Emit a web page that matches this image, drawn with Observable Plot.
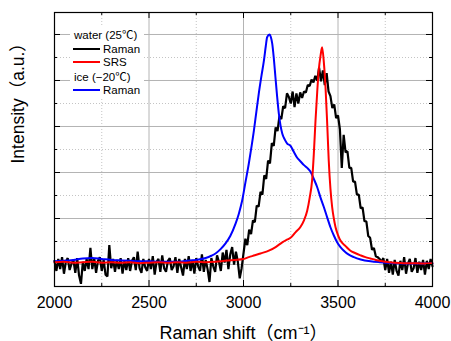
<!DOCTYPE html>
<html><head><meta charset="utf-8">
<script src="https://cdn.jsdelivr.net/npm/d3@7"></script>
<script src="https://cdn.jsdelivr.net/npm/@observablehq/plot@0.6"></script>
<style>body{margin:0;background:#fff;} #chart{width:451px;height:341px;}</style>
</head><body><div id="chart"></div>
<script>
// ---- data ----
const ramanStart = 2000, ramanStep = 10;
const waterRaman = [
 0.08,-0.14,0.12,-0.10,0.16,-0.20,0.06,0.14,-0.12,0.02,
 0.10,-0.18,0.14,-0.24,-0.42,0.06,-0.14,0.12,-0.10,0.36,
 -0.10,0.14,-0.18,0.08,0.16,-0.14,0.10,-0.22,-0.26,0.42,
 -0.08,0.12,-0.16,0.10,-0.10,0.14,-0.20,0.08,-0.12,0.14,
 -0.14,0.08,0.16,-0.12,0.28,-0.08,-0.18,0.12,-0.06,-0.14,
 0.12,-0.10,0.18,-0.22,0.06,0.12,-0.16,0.20,-0.08,-0.16,
 0.08,0.14,-0.12,-0.04,0.16,-0.18,0.12,-0.06,-0.24,0.12,
 -0.10,0.18,-0.14,0.10,-0.20,0.14,-0.04,-0.14,0.22,-0.16,
 0.10,-0.10,-0.38,0.14,-0.04,-0.16,0.20,0.06,-0.14,0.26,
 0.04,0.32,-0.10,0.22,0.38,0.00,0.28,0.06,-0.30,-0.08,
 0.24,0.56,0.42,0.76,0.66,0.96,0.92,1.28,1.26,1.58,
 1.52,1.94,1.86,2.26,2.20,2.64,2.58,2.98,2.90,3.22,
 3.16,3.44,3.40,3.72,3.64,3.50,3.76,3.42,3.72,3.50,
 3.74,3.62,3.76,3.74,3.90,3.88,4.02,3.96,4.10,4.00,
 4.28,3.98,4.22,3.90,4.16,3.76,3.66,3.40,3.48,3.18,
 3.24,2.94,2.10,2.82,2.44,2.46,2.10,2.10,1.80,1.80,
 1.52,1.52,1.22,1.24,0.94,0.94,0.62,0.58,0.32,0.36,
 0.18,0.16,0.12,0.06,0.14,-0.12,0.12,-0.18,0.06,-0.22,
 0.10,-0.14,-0.24,0.08,-0.12,0.16,-0.20,0.02,0.12,-0.16,
 -0.08,0.14,-0.18,0.06,-0.12,0.10,-0.22,0.08,-0.10,0.12,
 -0.04
];
const waterSRS = [
 [2000,0.05],[2050,0.06],[2100,0.04],[2150,0.05],[2200,0.06],[2250,0.04],[2300,0.05],[2350,0.04],
 [2400,0.05],[2450,0.03],[2500,0.04],[2550,0.05],[2600,0.04],[2650,0.05],[2700,0.04],[2750,0.06],
 [2800,0.05],[2852,0.06],[2900,0.08],[2950,0.10],[3000,0.12],[3028,0.16],[3060,0.20],[3090,0.24],
 [3134,0.30],[3170,0.38],[3205,0.48],[3230,0.54],[3249,0.58],[3275,0.70],[3302,0.82],[3320,0.96],
 [3337,1.17],[3350,1.45],[3363,1.83],[3372,2.40],[3381,3.13],[3390,3.75],[3398,4.22],[3408,4.55],
 [3416,4.72],[3425,4.40],[3434,3.85],[3443,3.05],[3451,2.26],[3460,1.65],[3469,1.25],[3478,1.00],
 [3487,0.81],[3500,0.64],[3513,0.52],[3540,0.40],[3566,0.30],[3590,0.25],[3619,0.20],[3645,0.16],
 [3672,0.13],[3700,0.10],[3750,0.06],[3800,0.04],[3850,0.03],[3900,0.03],[3950,0.02],[4000,0.03]
];
const iceRaman = [
 [2000,0.07],[2050,0.08],[2100,0.10],[2150,0.13],[2200,0.14],[2250,0.12],[2300,0.10],[2350,0.09],
 [2400,0.08],[2450,0.07],[2500,0.07],[2550,0.06],[2600,0.06],[2650,0.06],[2700,0.08],[2750,0.10],
 [2800,0.14],[2830,0.19],[2852,0.24],[2880,0.34],[2905,0.46],[2930,0.62],[2958,0.89],[2975,1.10],
 [2993,1.39],[3010,1.78],[3028,2.19],[3042,2.55],[3055,2.91],[3068,3.32],[3081,3.72],[3095,4.10],
 [3108,4.43],[3118,4.75],[3125,4.94],[3138,5.00],[3145,4.94],[3152,4.80],[3160,4.50],[3169,4.07],
 [3178,3.65],[3187,3.28],[3196,3.02],[3205,2.85],[3218,2.72],[3231,2.63],[3249,2.58],[3266,2.45],
 [3284,2.32],[3302,2.24],[3320,2.16],[3337,2.10],[3354,2.02],[3372,1.86],[3390,1.68],[3407,1.46],
 [3425,1.25],[3443,1.02],[3460,0.81],[3478,0.63],[3496,0.48],[3513,0.38],[3531,0.30],[3555,0.22],
 [3584,0.16],[3620,0.11],[3672,0.07],[3720,0.05],[3800,0.03],[3900,0.02],[4000,0.02]
];
const xMajor = [2000, 2500, 3000, 3500, 4000];
const xMinor = [2250, 2750, 3250, 3750];
const yMajor = [0, 1, 2, 3, 4, 5];
const yMinor = [0.5, 1.5, 2.5, 3.5, 4.5];
const xDomain = [2000, 4000];
const yDomain = [-0.478, 5.478];
const xLabel = "Raman shift\uFF08cm\u207B\u00B9\uFF09";
const yLabel = "Intensity\uFF08a.u.\uFF09";
const legendRows = [
 {label: "water (25\u2103)", color: null},
 {label: "Raman", color: "#000000"},
 {label: "SRS", color: "#ff0000"},
 {label: "ice (\u221220\u2103)", color: null},
 {label: "Raman", color: "#0000ff"}
];

// ---- layout ----
const W = 451, H = 341, mL = 54, mR = 19, mT = 12, mB = 55;
const fw = W - mL - mR, fh = H - mT - mB;
const FONT = "'Liberation Sans', 'Noto Sans CJK JP', sans-serif";

const black = waterRaman.map((v, i) => ({x: ramanStart + i * ramanStep, y: v}));
const red = waterSRS.map(([x, y]) => ({x, y}));
const blue = iceRaman.map(([x, y]) => ({x, y}));

const plot = Plot.plot({
  width: W, height: H,
  marginLeft: mL, marginRight: mR, marginTop: mT, marginBottom: mB,
  style: {fontFamily: FONT, background: "#fff", color: "#000"},
  x: {domain: xDomain},
  y: {domain: yDomain},
  marks: [
    Plot.ruleX(xMinor, {x: d => d, stroke: "#c4c4c4", strokeDasharray: "1,2"}),
    Plot.ruleY(yMinor, {y: d => d, stroke: "#c4c4c4", strokeDasharray: "1,2"}),
    Plot.ruleX(xMajor.slice(1, -1), {x: d => d, stroke: "#b4b4b4"}),
    Plot.ruleY(yMajor, {y: d => d, stroke: "#b4b4b4"}),
    Plot.line(black, {x: "x", y: "y", stroke: "#000", strokeWidth: 2.2, strokeLinejoin: "miter"}),
    Plot.line(blue, {x: "x", y: "y", stroke: "#0000ff", strokeWidth: 2, curve: "monotone-x"}),
    Plot.line(red, {x: "x", y: "y", stroke: "#ff0000", strokeWidth: 2, curve: "monotone-x"}),
    // inward ticks
    Plot.tickX(xMajor, {x: d => d, insetTop: fh - 6, stroke: "#000"}),
    Plot.tickX(xMinor, {x: d => d, insetTop: fh - 3, stroke: "#000"}),
    Plot.tickX(xMajor, {x: d => d, insetBottom: fh - 6, stroke: "#000"}),
    Plot.tickX(xMinor, {x: d => d, insetBottom: fh - 3, stroke: "#000"}),
    Plot.tickY(yMajor, {y: d => d, insetRight: fw - 6, stroke: "#000"}),
    Plot.tickY(yMinor, {y: d => d, insetRight: fw - 3, stroke: "#000"}),
    Plot.tickY(yMajor, {y: d => d, insetLeft: fw - 6, stroke: "#000"}),
    Plot.tickY(yMinor, {y: d => d, insetLeft: fw - 3, stroke: "#000"}),
    Plot.frame({stroke: "#000", strokeWidth: 1.2}),
    Plot.axisX(xMajor, {tickSize: 0, tickPadding: 10, tickFormat: d3.format("d"), fontSize: 16, label: null}),
    Plot.axisY({ticks: [], label: null}),
    Plot.text([xLabel], {text: d => d, frameAnchor: "bottom", dy: 52, lineAnchor: "bottom", fontSize: 18}),
    Plot.text([yLabel], {text: d => d, frameAnchor: "left", rotate: -90, dx: -36, dy: 14, fontSize: 17.5})
  ]
});
document.getElementById("chart").appendChild(plot);

// legend (inside the frame, top-left)
const g = d3.select(plot).append("g")
  .attr("font-family", FONT).attr("font-size", 11.5).attr("text-anchor", "start");
g.append("rect").attr("x", 70).attr("y", 27).attr("width", 74).attr("height", 71).attr("fill", "#fff");
const baselines = [39, 53, 66, 81, 94];
legendRows.forEach((r, i) => {
  const yb = baselines[i];
  if (r.color) {
    g.append("line").attr("x1", 73).attr("x2", 100).attr("y1", yb - 4).attr("y2", yb - 4)
      .attr("stroke", r.color).attr("stroke-width", 2);
    g.append("text").attr("x", 103).attr("y", yb).attr("fill", "#000").text(r.label);
  } else {
    g.append("text").attr("x", 74).attr("y", yb).attr("fill", "#000").text(r.label);
  }
});
</script>
</body></html>
